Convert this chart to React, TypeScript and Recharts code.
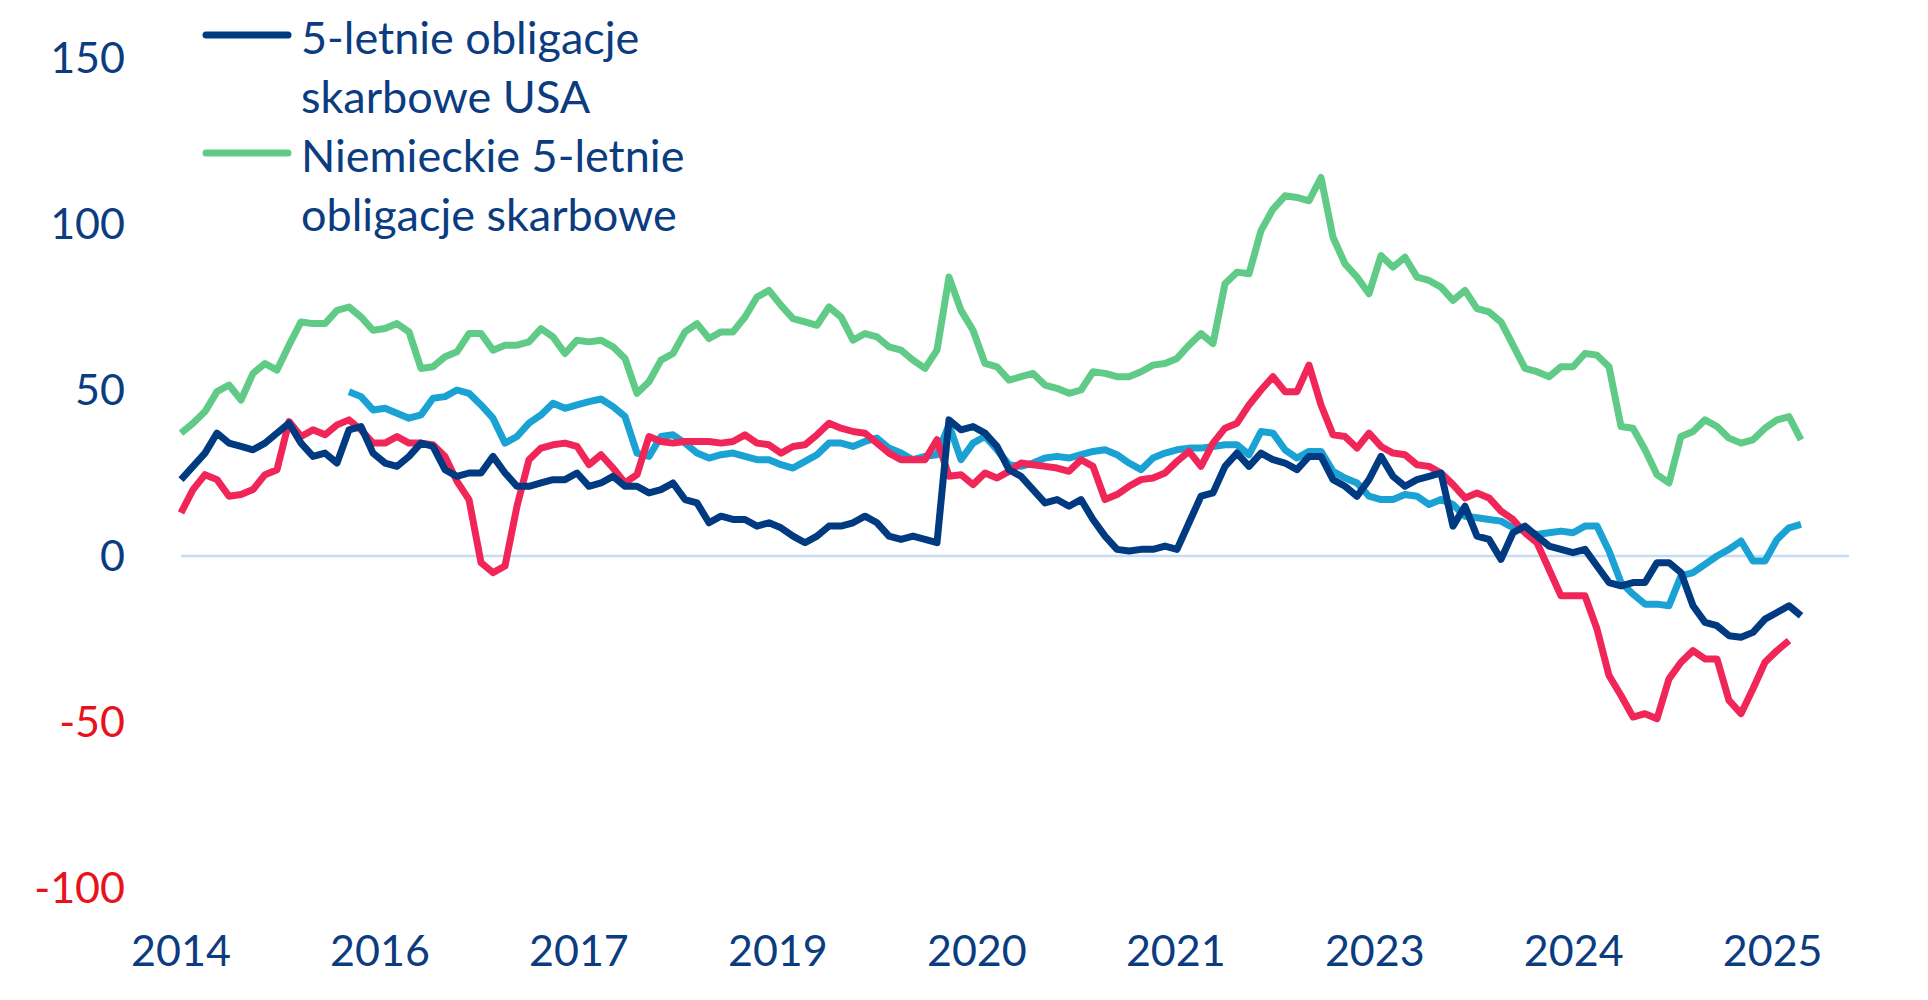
import { LineChart, Line, XAxis, YAxis, ReferenceLine, Legend } from "recharts";

// monthly-ish observations, index 0 = first point on the axis
const usa5y = [
  23, 27, 31, 37, 34, 33, 32, 34, 37, 40,
  34, 30, 31, 28, 38, 39, 31, 28, 27, 30,
  34, 33, 26, 24, 25, 25, 30, 25, 21, 21,
  22, 23, 23, 25, 21, 22, 24, 21, 21, 19,
  20, 22, 17, 16, 10, 12, 11, 11, 9, 10,
  8.5, 6, 4, 6, 9, 9, 10, 12, 10, 6,
  5, 6, 5, 4, 41, 38, 39, 37, 33, 26,
  24, 20, 16, 17, 15, 17, 11, 6, 2, 1.5,
  2, 2, 3, 2, 10, 18, 19, 27, 31, 27,
  31, 29, 28, 26, 30, 30, 23, 21, 18, 23,
  30, 24, 21, 23, 24, 25, 9, 15, 6, 5,
  -1, 7, 9, 6, 3, 2, 1, 2, -3, -8,
  -9, -8, -8, -2, -2, -5, -15, -20, -21, -24,
  -24.5, -23, -19, -17, -15, -18,
];

const de5y = [
  37, 40, 43.5, 49.5, 51.5, 47, 55, 58, 56, 63.5,
  70.5, 70, 70, 74, 75, 72, 68, 68.5, 70, 67.5,
  56.5, 57, 60, 61.5, 67, 67, 62, 63.5, 63.5, 64.5,
  68.5, 66, 61, 65, 64.5, 65, 63, 59.5, 49, 52.5,
  59, 61, 67.5, 70, 65.5, 67.5, 67.5, 72, 78, 80,
  75.5, 71.5, 70.5, 69.5, 75, 72, 65, 67, 66, 63,
  62, 59, 56.5, 62, 84, 74, 68, 58, 57, 53,
  54, 55, 51.5, 50.5, 49, 50, 55.5, 55, 54, 54,
  55.5, 57.5, 58, 59.5, 63.5, 67, 64, 82, 85.5, 85,
  98, 104.5, 108.5, 108, 107, 114, 96, 88, 84, 79,
  90.5, 87, 90, 84, 83, 81, 77, 80, 74.5, 73.5,
  70.5, 63.5, 56.5, 55.5, 54, 57, 57, 61, 60.5, 57,
  39, 38.5, 32, 24.5, 22, 36, 37.5, 41, 39, 35.5,
  34, 35, 38.5, 41, 42, 35,
];

const series3 = [
  13, 20, 24.5, 23, 18, 18.5, 20, 24.5, 26, 40.5,
  36, 38, 36.5, 39.5, 41, 38, 34, 34, 36, 34,
  34, 33.5, 30, 22.5, 17, -2, -5, -3, 15, 29,
  32.5, 33.5, 34, 33, 27.5, 30.5, 26.5, 22, 24.5, 36,
  34.5, 34, 34.5, 34.5, 34.5, 34, 34.5, 36.5, 34, 33.5,
  31, 33, 33.5, 36.5, 40, 38.5, 37.5, 37, 34, 31,
  29, 29, 29, 35, 24, 24.5, 21.5, 25, 23.5, 25.5,
  28, 27.5, 27, 26.5, 25.5, 29, 27, 17, 18.5, 21,
  23, 23.5, 25, 28.5, 31.5, 27, 34, 38.5, 40, 45.5,
  50, 54, 49.5, 49.5, 57.5, 45.5, 36.5, 36, 32.5, 37,
  33, 31, 30.5, 27.5, 27, 25, 21.5, 17.5, 19, 17.5,
  13.5, 11, 7, 4, -4, -12, -12, -12, -22, -36,
  -42, -48.5, -47.5, -49, -37, -32, -28.5, -31, -31, -43.5,
  -47.5, -40, -32, -28.5, -25.5,
];

// this one starts later than the others
const series4Start = 14;
const series4 = [
  49.5, 48, 44, 44.5, 43, 41.5, 42.5, 47.5, 48, 50,
  49, 45.5, 41.5, 34, 36, 40, 42.5, 46, 44.5, 45.5,
  46.5, 47.3, 45, 42, 31, 30, 36, 36.5, 34, 31,
  29.5, 30.5, 31, 30, 29, 29, 27.5, 26.5, 28.5, 30.5,
  34, 34, 33, 34.5, 35.5, 32.5, 31, 29, 30, 30.5,
  39.5, 29, 34, 36, 32, 27.5, 27, 28, 29.5, 30,
  29.5, 30.5, 31.5, 32, 30.5, 28, 26, 29.5, 31, 32,
  32.5, 32.5, 33, 33.5, 33.5, 30.5, 37.5, 37, 32, 29.5,
  31.5, 31.5, 25.5, 23.5, 22, 18, 17, 17, 18.5, 18,
  15.5, 17, 15.5, 12, 11.5, 11, 10.5, 8.5, 7.5, 6.5,
  7, 7.5, 7, 9, 9, 1.5, -8, -11.5, -14.5, -14.5,
  -15, -6, -5, -2.5, 0, 2, 4.5, -1.5, -1.5, 5,
  8.5, 9.5,
];

const xLabels = ["2014", "2016", "2017", "2019", "2020", "2021", "2023", "2024", "2025"];
const yTicks = [-100, -50, 0, 50, 100, 150];

// only these two series get a legend entry
const legendKeys = ["usa", "de"];

const LABEL_STEP = 16.58;
const X_MAX = 139;

const NAVY = "#003a80";
const GREEN = "#5fcb87";
const RED = "#f02659";
const LIGHT_BLUE = "#1aa2d5";
const TEXT = "#0c3c80";
const NEG_TEXT = "#e8121b";
const FONT = "Lato, sans-serif";
const LINE_W = 7;

const data = usa5y.map((v, i) => ({
  i,
  usa: v,
  de: de5y[i],
  s3: i < series3.length ? series3[i] : null,
  s4: i >= series4Start && i - series4Start < series4.length ? series4[i - series4Start] : null,
}));

const xTicks = xLabels.map((_, k) => k * LABEL_STEP);

const YTick = ({ x, y, payload }: any) => (
  <text
    x={x}
    y={y}
    dy="0.36em"
    textAnchor="end"
    fontFamily={FONT}
    fontSize={43}
    fill={payload.value < 0 ? NEG_TEXT : TEXT}
  >
    {payload.value}
  </text>
);

const XTick = ({ x, y, payload }: any) => (
  <text x={x} y={y} dy="0.36em" textAnchor="middle" fontFamily={FONT} fontSize={43} fill={TEXT}>
    {xLabels[Math.round(payload.value / LABEL_STEP)]}
  </text>
);

const renderLegend = ({ payload }: any) => {
  const entries = legendKeys
    .map((k) => (payload || []).find((p: any) => p.dataKey === k))
    .filter(Boolean);
  return (
    <div>
      {entries.map((entry: any) => (
        <div key={entry.dataKey} style={{ display: "flex", alignItems: "flex-start" }}>
          <svg width={99} height={59} style={{ flex: "none" }}>
            <line x1={4} x2={86} y1={27} y2={27} stroke={entry.color} strokeWidth={LINE_W} strokeLinecap="round" />
          </svg>
          <div style={{ width: 400, fontFamily: FONT, fontSize: 45, lineHeight: "59px", color: TEXT }}>
            {entry.value}
          </div>
        </div>
      ))}
    </div>
  );
};

export default function App() {
  return (
    <div style={{ position: "absolute", left: 0, top: 0, width: 1928, height: 1000, background: "#fff" }}>
      <LineChart width={1928} height={1000} data={data} margin={{ top: 58, right: 79, bottom: 0, left: 0 }}>
        <ReferenceLine y={0} stroke="#c6dcf6" strokeWidth={2.5} />
        <XAxis
          dataKey="i"
          type="number"
          domain={[0, X_MAX]}
          ticks={xTicks}
          interval={0}
          height={112}
          axisLine={false}
          tickLine={false}
          tickSize={0}
          tickMargin={63}
          tick={<XTick />}
        />
        <YAxis
          domain={[-100, 150]}
          ticks={yTicks}
          interval={0}
          width={181}
          axisLine={false}
          tickLine={false}
          tickSize={0}
          tickMargin={56}
          tick={<YTick />}
        />
        <Legend
          layout="vertical"
          align="center"
          verticalAlign="middle"
          wrapperStyle={{ left: 202, top: 8, width: 520 }}
          content={renderLegend}
        />
        <Line
          dataKey="de"
          name="Niemieckie 5-letnie obligacje skarbowe"
          stroke={GREEN}
          strokeWidth={LINE_W}
          dot={false}
          strokeLinejoin="round"
          isAnimationActive={false}
        />
        <Line
          dataKey="s4"
          name="Seria 4"
          stroke={LIGHT_BLUE}
          strokeWidth={LINE_W}
          dot={false}
          strokeLinejoin="round"
          legendType="none"
          isAnimationActive={false}
        />
        <Line
          dataKey="s3"
          name="Seria 3"
          stroke={RED}
          strokeWidth={LINE_W}
          dot={false}
          strokeLinejoin="round"
          legendType="none"
          isAnimationActive={false}
        />
        <Line
          dataKey="usa"
          name="5-letnie obligacje skarbowe USA"
          stroke={NAVY}
          strokeWidth={LINE_W}
          dot={false}
          strokeLinejoin="round"
          isAnimationActive={false}
        />
      </LineChart>
    </div>
  );
}
